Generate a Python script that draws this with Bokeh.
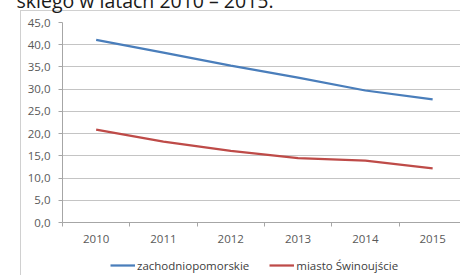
from bokeh.plotting import figure
from bokeh.layouts import column
from bokeh.models import Range1d, FixedTicker, Legend, LegendItem
from bokeh.embed import file_html
from bokeh.resources import INLINE

# ---- data ----
years = [2010, 2011, 2012, 2013, 2014, 2015]
zachodniopomorskie = [41.1, 38.2, 35.3, 32.6, 29.7, 27.7]
swinoujscie = [20.9, 18.2, 16.1, 14.5, 13.9, 12.2]
y_ticks = [0, 5, 10, 15, 20, 25, 30, 35, 40, 45]
y_tick_labels = {v: f"{v:.1f}".replace(".", ",") for v in y_ticks}
series_names = ["zachodniopomorskie", "miasto Świnoujście"]
colors = ["#4a7ebb", "#be4b48"]
title_text = "skiego w latach 2010 – 2015."

FONT = "Open Sans"
TXT = "#595959"
BORDER = "#d0d0d0"

SHIFT = 30            # part of the canvas scrolled above the page top (cut-off heading)
W = 460
LEFT, TOP, BOTTOM = 62, 22 + SHIFT, 33
FW, FH = 398, 200
LEG_H = 20
cat_w = 67.3

p = figure(frame_width=FW, frame_height=FH, output_backend="svg", toolbar_location=None,
           x_range=Range1d(years[0] - 0.5, years[0] - 0.5 + FW / cat_w),
           y_range=Range1d(0, 45))
p.min_border = 0
p.min_border_left = LEFT
p.min_border_top = TOP
p.min_border_bottom = BOTTOM
p.min_border_right = 0
p.outline_line_color = None
p.background_fill_color = "white"
p.border_fill_color = None
# Excel chart-area frame (left and top edges visible, rest off-page)
p.styles = {
    "background": (f"linear-gradient({BORDER},{BORDER}) 20px {10 + SHIFT}px / 1px 100% no-repeat, "
                   f"linear-gradient({BORDER},{BORDER}) 20px {10 + SHIFT}px / 100% 1px no-repeat, white"),
}

# cut-off heading above the chart
p.title.text = title_text
p.title.align = "left"
p.title.offset = 16 - LEFT
p.title.text_font = FONT
p.title.text_font_size = "19.5px"
p.title.text_font_style = "normal"
p.title.text_color = "#1a1a1a"
p.title.vertical_align = "bottom"
p.title.standoff = 17

# grid
p.xgrid.grid_line_color = None
p.ygrid.ticker = FixedTicker(ticks=y_ticks)
p.ygrid.grid_line_color = "#c4c4c4"
p.ygrid.grid_line_width = 1

# x axis
xa = p.xaxis[0]
xa.ticker = FixedTicker(ticks=years, minor_ticks=[y - 0.5 for y in years] + [years[-1] + 0.5])
xa.major_tick_out = 0
xa.major_tick_in = 0
xa.minor_tick_out = 4
xa.minor_tick_in = 0
xa.minor_tick_line_color = "#a6a6a6"
xa.axis_line_color = "#a6a6a6"
xa.major_label_text_font = FONT
xa.major_label_text_font_size = "11.5px"
xa.major_label_text_color = TXT
xa.major_label_standoff = 8

# y axis
ya = p.yaxis[0]
ya.ticker = FixedTicker(ticks=y_ticks)
ya.major_label_overrides = y_tick_labels
ya.major_tick_out = 4
ya.major_tick_in = 0
ya.minor_tick_line_color = None
ya.major_tick_line_color = "#a6a6a6"
ya.axis_line_color = "#a6a6a6"
ya.major_label_text_font = FONT
ya.major_label_text_font_size = "11.5px"
ya.major_label_text_color = TXT
ya.major_label_standoff = 8

# lines
p.line(years, zachodniopomorskie, line_color=colors[0], line_width=2.25)
p.line(years, swinoujscie, line_color=colors[1], line_width=2.25)

# legend strip below the chart (its frame is aligned with the main frame)
pl = figure(width=W, height=LEG_H, output_backend="svg", toolbar_location=None,
            x_axis_location=None, y_axis_location=None,
            x_range=Range1d(0, 1), y_range=Range1d(0, 1))
pl.min_border = 0
pl.outline_line_color = None
pl.background_fill_color = None
pl.border_fill_color = None
pl.grid.visible = False
pl.styles = {
    "background": f"linear-gradient({BORDER},{BORDER}) 20px 0px / 1px 100% no-repeat, white",
}
# same series, outside this strip's view: only their legend samples show
k1 = pl.line(years, zachodniopomorskie, line_color=colors[0], line_width=2.25)
k2 = pl.line(years, swinoujscie, line_color=colors[1], line_width=2.25)
legend = Legend(items=[LegendItem(label=series_names[0], renderers=[k1]),
                       LegendItem(label=series_names[1], renderers=[k2])],
                orientation="horizontal", location=(110 - LEFT, 0),
                glyph_width=25, glyph_height=LEG_H, label_height=LEG_H,
                label_standoff=2, spacing=20,
                padding=0, margin=0, border_line_color=None,
                background_fill_alpha=0,
                label_text_font=FONT, label_text_font_size="11.5px",
                label_text_color="#404040")
pl.add_layout(legend, "center")

layout = column(p, pl, spacing=0)
layout.styles = {"margin-top": f"-{SHIFT}px"}

open("out.html", "w").write(file_html(layout, INLINE))
